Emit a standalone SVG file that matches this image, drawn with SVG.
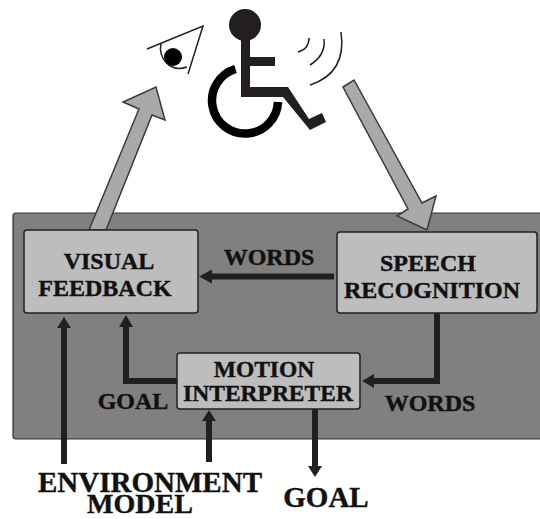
<svg xmlns="http://www.w3.org/2000/svg" width="540" height="519" viewBox="0 0 540 519">
<style>
.t{font-family:"Liberation Serif","Times New Roman",serif;font-weight:bold;fill:#111;text-anchor:middle;stroke:#111;stroke-width:.4}
.box{fill:#bdbdbd;stroke:#231f20;stroke-width:1.5}
.wire{fill:none;stroke:#231f20;stroke-width:6}
.head{fill:#231f20}
.big{fill:#a9a9a9;stroke:#3a3a3a;stroke-width:1.5;stroke-linejoin:miter}
.thin{fill:none;stroke:#231f20;stroke-width:1.5}
</style>
<rect width="540" height="519" fill="#fff"/>
<g id="panel"><rect x="13" y="213" width="535" height="226" rx="3" fill="#808080" stroke="#333" stroke-width="1.2"/></g>
<g id="person">
<circle cx="245" cy="25" r="16" fill="#231f20"/>
<path d="M241 35H250V57H275V66H250V87H288L309 119L322 113L326 122L310 130L283 97H241Z" fill="#231f20"/>
<path d="M235.500 69A33 33 0 1 0 278 102" fill="none" stroke="#000" stroke-width="8.500"/>
</g>
<g id="eye">
<path class="thin" d="M147 49L203 26L188 74"/>
<path class="thin" d="M161 43C158 58 170 73 187 67"/>
<circle cx="173" cy="57" r="9" fill="#000"/>
</g>
<g id="sound">
<path class="thin" d="M298 52Q309 49 309 38"/>
<path class="thin" d="M310 65Q326 55 324 39"/>
<path class="thin" d="M310 85Q347 73 341 32"/>
</g>
<g id="connectors">
<path class="big" d="M89 230L139 109L123 102L156 87L165 120L152 115L106 230Z"/>
<path class="big" d="M343 87L354 80L422 203L436 196L427 230L397 216L408 209Z"/>
<path class="wire" d="M334 276.500H208"/><path class="head" d="M199 276.500L212 269.500V283.500Z"/>
<path class="wire" d="M64 464V326"/><path class="head" d="M64 317L71 328H57Z"/>
<path class="wire" d="M177 381H126V325"/><path class="head" d="M126 315L133 327H119Z"/>
<path class="wire" d="M209 462V420"/><path class="head" d="M209 410L216 421H202Z"/>
<path class="wire" d="M437 313V381H372"/><path class="head" d="M362 381L374 374V388Z"/>
<path class="wire" d="M315 409V468"/><path class="head" d="M315 477L308 466H322Z"/>
</g>
<g id="visual-feedback"><rect class="box" x="24" y="230" width="174" height="83" rx="3"/>
<text class="t" font-size="24" x="109" y="269">VISUAL</text><text class="t" font-size="24" x="105" y="296">FEEDBACK</text></g>
<g id="speech-recognition"><rect class="box" x="337" y="232" width="200" height="81" rx="3"/>
<text class="t" font-size="24" x="428" y="271">SPEECH</text><text class="t" font-size="24" x="432" y="298">RECOGNITION</text></g>
<g id="motion-interpreter"><rect class="box" x="177" y="353" width="183" height="56" rx="3"/>
<text class="t" font-size="23.500" x="264" y="377">MOTION</text><text class="t" font-size="23.500" x="268" y="401">INTERPRETER</text></g>
<g id="labels">
<text class="t" font-size="24" x="269" y="265">WORDS</text>
<text class="t" font-size="24" x="133" y="409">GOAL</text>
<text class="t" font-size="24" x="430" y="411">WORDS</text>
<text class="t" font-size="29" x="150" y="492">ENVIRONMENT</text>
<text class="t" font-size="28" x="140" y="513">MODEL</text>
<text class="t" font-size="29" x="326" y="507">GOAL</text>
</g>
</svg>
